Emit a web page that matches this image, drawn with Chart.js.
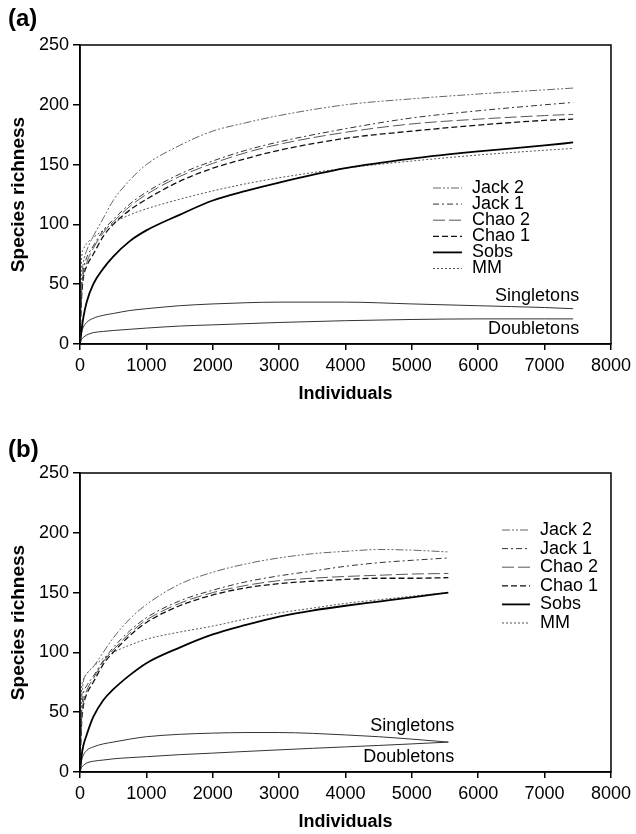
<!DOCTYPE html>
<html>
<head>
<meta charset="utf-8">
<script src="https://cdn.jsdelivr.net/npm/chart.js@4/dist/chart.umd.min.js"></script>
<style>
body { margin: 0; background: #fff; width: 636px; height: 834px; overflow: hidden; }
.panel { position: absolute; left: 0; width: 636px; }
</style>
</head>
<body>
<div class="panel" style="top:0;height:418px"><canvas id="chartA" width="636" height="418"></canvas></div>
<div class="panel" style="top:418px;height:416px"><canvas id="chartB" width="636" height="416"></canvas></div>
<script>
const FONT = 'Arial, "Liberation Sans", sans-serif';

// panel (a) - individuals sampled
const indA = [0, 10, 25, 50, 100, 200, 350, 500, 750, 1000, 1500, 2000, 2500, 3000, 4000, 5000, 6000, 7000, 7430];
const jack2A = [0, 30, 55, 68, 78, 90, 105, 120, 137, 150, 166, 178, 185, 191, 200, 205, 209, 212.5, 214];
const jack1A = [0, 22, 45, 62, 72, 82, 95, 104, 117, 127, 142, 153, 162, 169, 180, 189, 195, 200, 202];
const chao2A = [0, 25, 45, 58, 68, 80, 93, 102, 115, 125, 140, 151, 160, 167, 177, 184, 188, 191, 192];
const chao1A = [0, 20, 40, 55, 65, 75, 90, 100, 112, 121, 136, 147, 155, 162, 172, 178, 183, 187, 188];
const sobsA = [0, 5, 12, 22, 35, 50, 63, 73, 86, 95, 108, 120, 128, 135, 147, 155, 161, 166, 168.5];
const mmA = [0, 45, 72, 79, 84, 89, 95, 101, 108, 113, 121, 128, 134, 139, 147, 153, 158, 162, 163.5];
const singA = [0, 5, 10, 14, 18, 21.5, 24, 25.5, 28, 29.5, 32, 33.5, 34.5, 35, 35, 33.5, 32, 30.5, 29.5];
const doubA = [0, 2, 4, 5.5, 7.5, 9.5, 10.5, 11.3, 12.3, 13.3, 15, 16, 17, 18, 19.5, 20.5, 21, 21, 21];

// panel (b)
const indB = [0, 10, 25, 50, 100, 200, 350, 500, 750, 1000, 1500, 2000, 2500, 3000, 3500, 4000, 4500, 5000, 5550];
const jack2B = [0, 35, 60, 75, 82, 88, 100, 112, 128, 140, 157, 167, 174, 179, 182.5, 184.5, 186, 185.5, 184];
const jack1B = [0, 25, 50, 65, 72, 80, 93, 104, 118, 129, 143, 152, 159, 164, 168, 172, 175, 177, 179];
const chao2B = [0, 25, 45, 58, 68, 78, 92, 102, 116, 127, 141, 150, 156, 160, 162, 163.5, 164.5, 165.5, 166];
const chao1B = [0, 22, 42, 55, 65, 75, 90, 100, 114, 125, 139, 148, 154, 157.5, 159.5, 161, 162, 162, 162.5];
const sobsB = [0, 6, 14, 22, 31, 46, 60, 69, 81, 91, 104, 115, 123, 130, 135, 139, 142.5, 146, 150];
const mmB = [0, 45, 70, 77, 82, 88, 95, 100, 106, 111, 117, 122, 128, 133, 137, 141, 144, 147, 150];
const singB = [0, 5, 10, 14, 18, 21, 23.5, 25, 27.5, 29.5, 31.5, 32.5, 33, 33, 32.3, 31, 29.5, 27.5, 25];
const doubB = [0, 2, 4, 5.5, 7.5, 9, 10, 11, 12, 12.8, 14.5, 15.8, 17.2, 18.5, 19.8, 21, 22.2, 23.5, 25];

const legendNames = ['Jack 2', 'Jack 1', 'Chao 2', 'Chao 1', 'Sobs', 'MM'];
const xTicksMax = 8000;
const yTicksMax = 250;

const styles = {
    'Jack 2': {color: '#666', width: 1, dash: [8, 2, 2, 2, 2, 2]},
    'Jack 1': {color: '#333', width: 1, dash: [6, 3, 2, 3]},
    'Chao 2': {color: '#555', width: 1, dash: [12, 4]},
    'Chao 1': {color: '#111', width: 1.3, dash: [6, 3]},
    'Sobs': {color: '#000', width: 1.8, dash: []},
    'MM': {color: '#555', width: 1, dash: [2, 2]},
    'Singletons': {color: '#333', width: 1, dash: []},
    'Doubletons': {color: '#333', width: 1, dash: []}
};

function toPoints(xs, ys) {
    return xs.map((x, i) => ({x: x, y: ys[i]}));
}

function dataSet(label, xs, ys) {
    const s = styles[label];
    return {
        label: label,
        data: toPoints(xs, ys),
        borderColor: s.color,
        borderWidth: s.width,
        borderDash: s.dash,
        pointRadius: 0,
        showLine: true,
        fill: false,
        cubicInterpolationMode: 'monotone'
    };
}

const panelDecor = {
    id: 'panelDecor',
    afterDatasetsDraw(chart, args, opts) {
        const ctx = chart.ctx, a = chart.chartArea;
        ctx.save();
        ctx.strokeStyle = '#000';
        ctx.lineWidth = 1.5;
        ctx.strokeRect(a.left, a.top, a.right - a.left, a.bottom - a.top);

        ctx.fillStyle = '#000';
        ctx.textBaseline = 'middle';
        ctx.textAlign = 'left';
        ctx.font = 'bold 24px ' + FONT;
        ctx.fillText(opts.letter, opts.letterX, opts.letterY);

        ctx.font = '18px ' + FONT;
        legendNames.forEach((name, i) => {
            const ds = chart.data.datasets.find(d => d.label === name);
            const y = opts.legendY + i * opts.legendGap;
            ctx.beginPath();
            ctx.setLineDash(ds.borderDash);
            ctx.strokeStyle = ds.borderColor;
            ctx.lineWidth = ds.borderWidth;
            ctx.moveTo(opts.legendX, y);
            ctx.lineTo(opts.legendX + opts.legendLen, y);
            ctx.stroke();
            ctx.setLineDash([]);
            ctx.fillText(name, opts.legendX + opts.legendLen + 10, y);
        });

        ctx.textAlign = 'right';
        opts.endLabels.forEach(lab => {
            const ds = chart.data.datasets.find(d => d.label === lab.name);
            const last = ds.data[ds.data.length - 1];
            const px = chart.scales.x.getPixelForValue(last.x);
            const py = chart.scales.y.getPixelForValue(last.y);
            ctx.fillText(lab.name, px + 6, py + lab.dy);
        });
        ctx.restore();
    }
};

function makeChart(tag, xs, series, o) {
    const dataSets = [
        dataSet('Jack 2', xs, series[0]),
        dataSet('Jack 1', xs, series[1]),
        dataSet('Chao 2', xs, series[2]),
        dataSet('Chao 1', xs, series[3]),
        dataSet('Sobs', xs, series[4]),
        dataSet('MM', xs, series[5]),
        dataSet('Singletons', xs, series[6]),
        dataSet('Doubletons', xs, series[7])
    ];
    new Chart(document.getElementById(tag).getContext('2d'), {
        type: 'scatter',
        data: {datasets: dataSets},
        options: {
            responsive: false,
            animation: false,
            events: [],
            layout: {padding: {top: o.padTop, right: 22, left: 0, bottom: 0}},
            plugins: {
                legend: {display: false},
                tooltip: {enabled: false},
                panelDecor: o.decor
            },
            scales: {
                x: {
                    type: 'linear', min: 0, max: xTicksMax,
                    ticks: {stepSize: 1000, color: '#000', font: {size: 18, family: FONT}, padding: 5, maxRotation: 0, autoSkip: false,
                        callback: v => String(v)},
                    grid: {display: true, drawOnChartArea: false, drawTicks: true, tickLength: 6, color: '#000', lineWidth: 1.5},
                    border: {display: true, color: '#000', width: 1.5},
                    title: {display: true, text: 'Individuals', color: '#000', font: {size: 18, weight: 'bold', family: FONT}, padding: {top: 0, bottom: o.xTitlePad}},
                    afterFit: s => { s.height = o.xHeight; }
                },
                y: {
                    type: 'linear', min: 0, max: yTicksMax,
                    ticks: {stepSize: 50, color: '#000', font: {size: 18, family: FONT}, padding: 4,
                        callback: v => String(v)},
                    grid: {display: true, drawOnChartArea: false, drawTicks: true, tickLength: 7, color: '#000', lineWidth: 1.5},
                    border: {display: true, color: '#000', width: 1.5},
                    title: {display: true, text: 'Species richness', color: '#000', font: {size: 19, weight: 'bold', family: FONT}, padding: {top: 7, bottom: 0}},
                    afterFit: s => { s.width = 80; }
                }
            }
        },
        plugins: [panelDecor]
    });
}

makeChart('chartA', indA, [jack2A, jack1A, chao2A, chao1A, sobsA, mmA, singA, doubA], {
    padTop: 45, xHeight: 74, xTitlePad: 13,
    decor: {
        letter: '(a)', letterX: 8, letterY: 19,
        legendX: 433, legendLen: 29, legendY: 188, legendGap: 16.1,
        endLabels: [{name: 'Singletons', dy: -13}, {name: 'Doubletons', dy: 10}]
    }
});

makeChart('chartB', indB, [jack2B, jack1B, chao2B, chao1B, sobsB, mmB, singB, doubB], {
    padTop: 55, xHeight: 62, xTitlePad: 1,
    decor: {
        letter: '(b)', letterX: 8, letterY: 32,
        legendX: 502, legendLen: 28, legendY: 112, legendGap: 18.6,
        endLabels: [{name: 'Singletons', dy: -16}, {name: 'Doubletons', dy: 15}]
    }
});
</script>
</body>
</html>
